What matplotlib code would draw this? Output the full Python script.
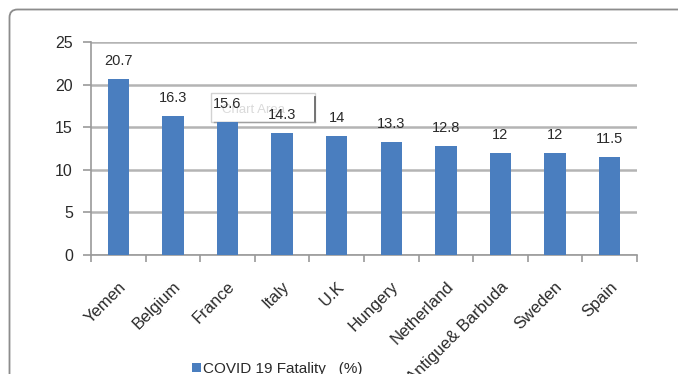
import matplotlib
matplotlib.use("Agg")
import matplotlib.pyplot as plt
from matplotlib.patches import FancyBboxPatch, Rectangle
from matplotlib.transforms import ScaledTranslation

countries = ["Yemen", "Belgium", "France", "Italy", "U.K", "Hungery",
             "Netherland", "Antigue& Barbuda", "Sweden", "Spain"]
fatality = [20.7, 16.3, 15.6, 14.3, 14, 13.3, 12.8, 12, 12, 11.5]
value_labels = ["20.7", "16.3", "15.6", "14.3", "14", "13.3", "12.8", "12", "12", "11.5"]
y_ticks = [0, 5, 10, 15, 20, 25]
series_name = "COVID 19 Fatality   (%)"

BAR = "#4a7ebf"
GRID = "#b4b4b4"
AXIS = "#9a9a9a"
TEXT = "#2a2a2a"

plt.rcParams["font.family"] = ["Liberation Sans", "DejaVu Sans"]

W, H = 678, 374
DPI = 100
fig = plt.figure(figsize=(W / DPI, H / DPI), dpi=DPI)
fig.patch.set_facecolor("white")


def px(x, y):
    """Figure fraction from pixel position measured from the top-left."""
    return x / W, 1 - y / H


# outer chart frame (rounded, running off the right and bottom edges)
frame = FancyBboxPatch((0.095, -0.5), 7.5, H / DPI - 0.095 + 0.5,
                       boxstyle="round,pad=0,rounding_size=0.08",
                       transform=fig.dpi_scale_trans, facecolor="none",
                       edgecolor="#8c8c8c", linewidth=1.3, zorder=0)
fig.patches.append(frame)

# hover tooltip box left on the chart area
tx, ty = px(211, 122)
tip = Rectangle((tx, ty), 104 / W, 29 / H, transform=fig.transFigure,
                facecolor="white", edgecolor="#d2d2d2", linewidth=1.0, zorder=0.2)
fig.patches.append(tip)
fig.lines.append(plt.Line2D([315 / W, 315 / W], [1 - 122 / H, 1 - 97 / H],
                            transform=fig.transFigure, color="#6a6a6a", lw=1.3,
                            zorder=0.3))
fig.lines.append(plt.Line2D([214 / W, 315 / W], [1 - 122 / H, 1 - 122 / H],
                            transform=fig.transFigure, color="#a0a0a0", lw=1.0,
                            zorder=0.3))
fig.text(*px(222, 110), "Chart Area", fontsize=9.5, color="#dadada",
         va="center", ha="left", zorder=0.4)

left, right = 91 / W, 637 / W
bottom, top = 1 - 255 / H, 1 - 42 / H
ax = fig.add_axes([left, bottom, right - left, top - bottom])
ax.set_facecolor("none")
ax.set_zorder(1)

x = list(range(len(countries)))
ax.bar(x, fatality, width=0.39, color=BAR, zorder=3)

ax.set_xlim(-0.5, len(countries) - 0.5)
ax.set_ylim(0, 25)
ax.set_yticks(y_ticks)
ax.yaxis.grid(True, color=GRID, linewidth=1.8, zorder=1)
ax.set_axisbelow(True)

for s in ["top", "right"]:
    ax.spines[s].set_visible(False)
for s in ["left", "bottom"]:
    ax.spines[s].set_color(AXIS)
    ax.spines[s].set_linewidth(1.2)

ax.tick_params(axis="y", length=6, width=1.2, color=AXIS, pad=7,
               labelsize=11.5, labelcolor=TEXT)
ax.set_xticks([i - 0.5 for i in range(len(countries) + 1)], minor=True)
ax.tick_params(axis="x", which="minor", length=5, width=1.2, color=AXIS)
ax.set_xticks(x)
ax.set_xticklabels(countries)
ax.tick_params(axis="x", which="major", length=0, pad=21, labelsize=12,
               labelcolor=TEXT)
offset = ScaledTranslation(5 / DPI, 0, fig.dpi_scale_trans)
for lbl in ax.get_xticklabels():
    lbl.set_rotation(45)
    lbl.set_ha("right")
    lbl.set_va("center")
    lbl.set_rotation_mode("anchor")
    lbl.set_transform(lbl.get_transform() + offset)

for xi, v, t in zip(x, fatality, value_labels):
    ax.annotate(t, (xi, v), xytext=(0, 8), textcoords="offset points",
                ha="center", va="bottom", fontsize=10.5, color=TEXT,
                zorder=6, annotation_clip=False)

# legend key below the category labels
fig.patches.append(Rectangle(px(192, 372), 9 / W, 9 / H,
                             transform=fig.transFigure, facecolor=BAR,
                             edgecolor="none"))
fig.text(*px(203, 373), series_name, fontsize=11, color=TEXT,
         va="baseline", ha="left")

fig.savefig("out.png", dpi=DPI, facecolor="white")
